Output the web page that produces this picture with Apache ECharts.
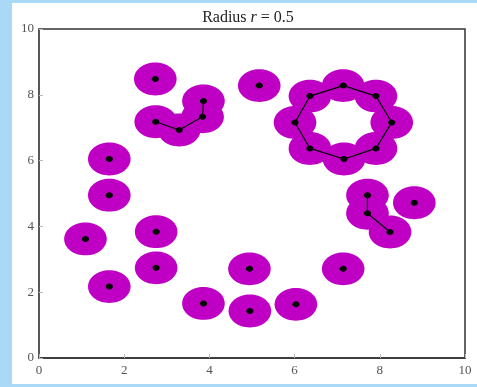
<!DOCTYPE html>
<html><head><meta charset="utf-8">
<script src="https://cdn.jsdelivr.net/npm/echarts@6/dist/echarts.min.js"></script>
<style>
html,body{margin:0;padding:0;background:#a9d9f6;}
#wrap{position:absolute;left:12px;top:3px;width:465px;height:381px;background:#ffffff;}
#c{position:absolute;left:0;top:0;width:477px;height:387px;}
</style></head>
<body><div id="wrap"></div><div id="c"></div>
<script>
const titleText = 'Radius r = 0.5';
const radius = 0.5;
const xTicks = [0, 2, 4, 6, 8, 10];
const yTicks = [0, 2, 4, 6, 8, 10];
const pointsX = [2.73, 2.74, 3.29, 3.84, 3.86, 5.17,
  7.14, 7.91, 8.28, 7.91, 7.16, 6.36, 6.01, 6.36,
  7.71, 7.71, 8.24, 8.81,
  1.65, 1.65, 1.09, 2.75, 2.75, 1.65,
  4.94, 7.14, 3.86, 4.95, 6.03];
const pointsY = [8.48, 7.18, 6.93, 7.33, 7.81, 8.28,
  8.28, 7.96, 7.16, 6.37, 6.05, 6.37, 7.16, 7.96,
  4.95, 4.40, 3.83, 4.72,
  6.05, 4.95, 3.62, 3.84, 2.74, 2.17,
  2.71, 2.71, 1.66, 1.43, 1.63];
const edgeFrom = [1, 2, 3, 6, 7, 8, 9, 10, 11, 12, 13, 14, 15];
const edgeTo   = [2, 3, 4, 7, 8, 9, 10, 11, 12, 13, 6, 15, 16];

const pts = pointsX.map((x, i) => [x, pointsY[i]]);
const edges = edgeFrom.map((a, i) => [pointsX[a], pointsY[a], pointsX[edgeTo[i]], pointsY[edgeTo[i]]]);

const chart = echarts.init(document.getElementById('c'), null, {renderer: 'canvas'});
const labelFont = {fontFamily: 'Liberation Serif', fontSize: 13, color: '#555'};
chart.setOption({
  backgroundColor: 'transparent',
  animation: false,
  title: {
    text: '{a|Radius }{b|r}{a| = 0.5}',
    left: 243, top: 5, textAlign: 'center',
    textStyle: {
      fontWeight: 'normal',
      rich: {
        a: {fontFamily: 'Liberation Serif', fontSize: 16, fontWeight: 'normal', color: '#222'},
        b: {fontFamily: 'Liberation Serif', fontSize: 16, fontWeight: 'normal', fontStyle: 'italic', color: '#222'}
      }
    }
  },
  grid: {left: 39, right: 12, top: 29, bottom: 29, show: true, borderColor: '#333', borderWidth: 1.5, backgroundColor: '#fff'},
  xAxis: {
    type: 'value', min: 0, max: 10, interval: 2,
    axisLine: {show: true, lineStyle: {color: '#333', width: 1.5}},
    axisTick: {show: true, inside: true, length: 4, lineStyle: {color: '#bbb'}},
    splitLine: {show: false},
    axisLabel: Object.assign({margin: 6}, labelFont)
  },
  yAxis: {
    type: 'value', min: 0, max: 10, interval: 2,
    axisLine: {show: true, lineStyle: {color: '#555', width: 1.5}},
    axisTick: {show: true, inside: true, length: 4, lineStyle: {color: '#bbb'}},
    splitLine: {show: false},
    axisLabel: Object.assign({margin: 5}, labelFont)
  },
  series: [
    {
      type: 'custom', z: 1, data: pts,
      renderItem: function (params, api) {
        const c = api.coord([api.value(0), api.value(1)]);
        const s = api.size([radius, radius]);
        return {type: 'ellipse', shape: {cx: c[0], cy: c[1], rx: s[0], ry: s[1]}, style: {fill: '#bf00c4'}};
      }
    },
    {
      type: 'custom', z: 2, data: edges,
      renderItem: function (params, api) {
        const a = api.coord([api.value(0), api.value(1)]);
        const b = api.coord([api.value(2), api.value(3)]);
        return {type: 'line', shape: {x1: a[0], y1: a[1], x2: b[0], y2: b[1]}, style: {stroke: '#000', lineWidth: 1.2}};
      }
    },
    {
      type: 'custom', z: 3, data: pts,
      renderItem: function (params, api) {
        const c = api.coord([api.value(0), api.value(1)]);
        return {type: 'ellipse', shape: {cx: c[0], cy: c[1], rx: 3.6, ry: 3}, style: {fill: '#000'}};
      }
    }
  ]
});
</script></body></html>
